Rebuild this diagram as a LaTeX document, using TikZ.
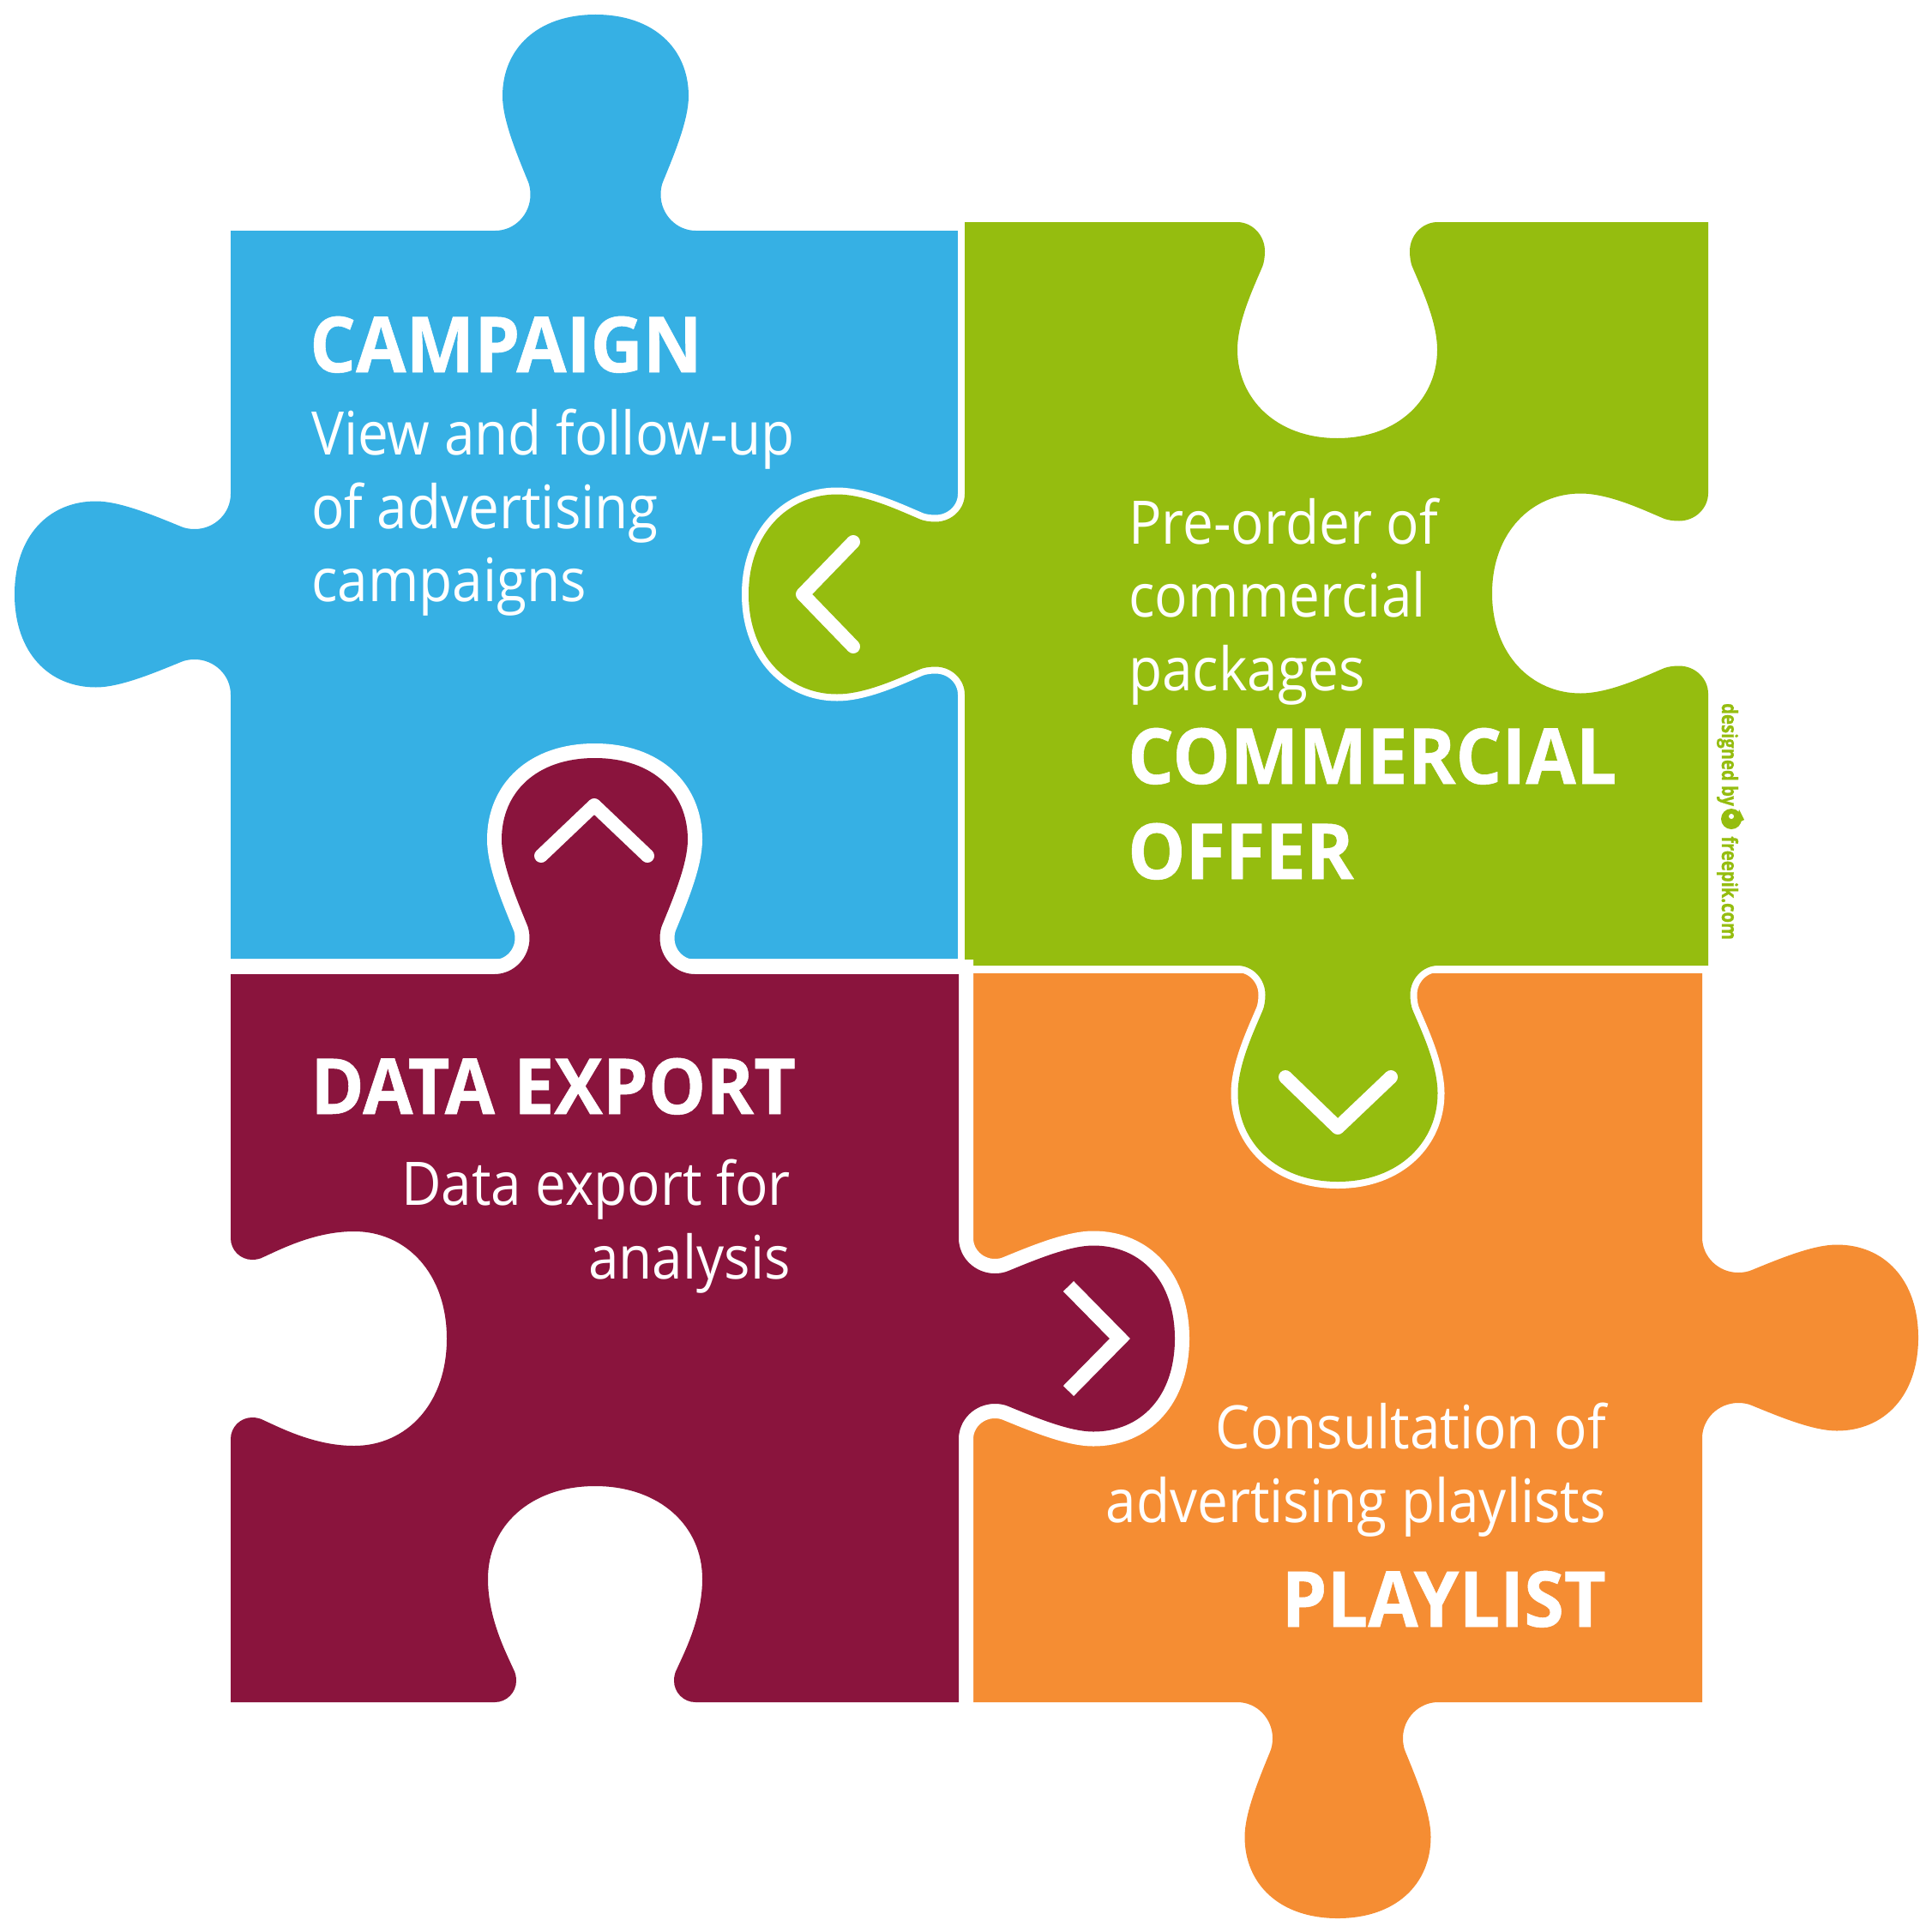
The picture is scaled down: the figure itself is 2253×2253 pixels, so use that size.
\documentclass[tikz,border=0pt]{standalone}
\usepackage{fontspec}
\setmainfont{Open Sans}
\newfontfamily\bodyf[FakeStretch=0.912]{Open Sans}
\newfontfamily\headf[FakeStretch=0.94,BoldFeatures={FakeStretch=0.94,FakeBold=0.6}]{Open Sans}
\newfontfamily\credf[BoldFeatures={FakeStretch=0.81,FakeBold=0.8}]{Open Sans}
\definecolor{cblue}{RGB}{54,176,228}
\definecolor{cgreen}{RGB}{149,189,15}
\definecolor{cmaroon}{RGB}{138,20,61}
\definecolor{corange}{RGB}{245,141,51}
\def\Q#1#2{({\cx+(\ux)*(#1)+(\vx)*(#2)},{\cy+(\uy)*(#1)+(\vy)*(#2)})}
% profiles: neck height, diagonal start, controls, widest height, head controls
\newcommand\ProfTab{\def\ff{117}\def\nn{76}\def\ww{108.5}\def\rr{42}\def\sx{79}\def\sy{58}\def\ax{93}\def\ay{92}\def\by{130}\def\hy{157}\def\hc{212}\def\kk{68}}
\newcommand\ProfGreen{\def\ff{117}\def\nn{84.5}\def\ww{116.5}\def\rr{34}\def\sx{87}\def\sy{51}\def\ax{97}\def\ay{75}\def\by{115}\def\hy{149}\def\hc{205}\def\kk{72}}
\newcommand\ProfNotch{\def\ff{117}\def\nn{92}\def\ww{125}\def\rr{25}\def\sx{95}\def\sy{38}\def\ax{104}\def\ay{58}\def\by{98}\def\hy{144}\def\hc{205}\def\kk{76}}
\newcommand\Side[6]{%
\def\cx{#1}\def\cy{#2}\def\ux{#3}\def\uy{#4}\def\vx{#5}\def\vy{#6}%
\edef\curpath{\curpath -- \Q{-\ff}{0}
 .. controls \Q{-\ff+.55*(\ff-\nn)}{0} and \Q{-\nn}{.45*\rr} .. \Q{-\nn}{\rr}
 .. controls \Q{-\nn}{\rr*.6+\sy*.4} and \Q{-\nn*.6-\sx*.4}{\rr*.25+\sy*.75} .. \Q{-\sx}{\sy}
 .. controls \Q{-\ax}{\ay} and \Q{-\ww}{\by} .. \Q{-\ww}{\hy}
 .. controls \Q{-\ww}{\hc} and \Q{-\kk}{252} .. \Q{0}{252}
 .. controls \Q{\kk}{252} and \Q{\ww}{\hc} .. \Q{\ww}{\hy}
 .. controls \Q{\ww}{\by} and \Q{\ax}{\ay} .. \Q{\sx}{\sy}
 .. controls \Q{\nn*.6+\sx*.4}{\rr*.25+\sy*.75} and \Q{\nn}{\rr*.6+\sy*.4} .. \Q{\nn}{\rr}
 .. controls \Q{\nn}{.45*\rr} and \Q{\ff-.55*(\ff-\nn)}{0} .. \Q{\ff}{0}}}
\newcommand\Add[1]{\edef\curpath{\curpath #1}}
% blue
\ProfTab
\def\curpath{(269,269)}
\Side{694.5}{269}{1}{0}{0}{-1}
\Add{-- (1118,269) -- (1118,1118) -- (269,1118)}
\Side{269}{693}{0}{-1}{-1}{0}
\Add{-- cycle}
\let\bluepath\curpath
% orange
\def\curpath{(1135,1135) -- (1985,1135)}
\Side{1985}{1560}{0}{1}{1}{0}
\Add{-- (1985,1985)}
\Side{1560}{1985}{-1}{0}{0}{1}
\Add{-- (1135,1985) -- cycle}
\let\orangepath\curpath
% green
\ProfGreen
\def\curpath{(1125,259)}
\Side{1559.5}{259}{1}{0}{0}{1}
\Add{-- (1992,259)}
\Side{1992}{692}{0}{1}{-1}{0}
\Add{-- (1992,1126)}
\Side{1560}{1126}{-1}{0}{0}{1}
\Add{-- (1125,1126)}
\Side{1125}{693}{0}{-1}{-1}{0}
\Add{-- cycle}
\let\greenpath\curpath
% maroon
\ProfTab
\def\curpath{(269,1136)}
\Side{693.5}{1136}{1}{0}{0}{-1}
\Add{-- (1118,1136)}
\Side{1118}{1561}{0}{1}{1}{0}
\Add{-- (1118,1985)}
\ProfNotch
\Side{694}{1985}{-1}{0}{0}{-1}
\Add{-- (269,1985)}
\Side{269}{1561}{0}{-1}{1}{0}
\Add{-- cycle}
\let\maroonpath\curpath
\tikzset{
  body/.style={text=white,inner sep=0pt,font=\fontsize{70}{85}\selectfont\bodyf},
  head/.style={text=white,inner sep=0pt,font=\fontsize{90}{111}\selectfont\headf\bfseries},
  chev/.style={draw=white,line width=16pt,line cap=round,line join=round},
  chevsq/.style={draw=white,line width=17pt,line cap=butt,line join=miter},
  credit/.style={text=cgreen,inner sep=0pt,rotate=-90,font=\fontsize{25}{25}\selectfont\credf\bfseries}
}
\begin{document}
\begin{tikzpicture}[x=1pt,y=-1pt]
\useasboundingbox (0,0) rectangle (2253,2253);
\fill[cblue] \bluepath;
\fill[corange] \orangepath;
\draw[white,line width=16pt,line join=miter] \greenpath;
\fill[cgreen] \greenpath;
\draw[white,line width=34pt,line join=miter] \maroonpath;
\fill[cmaroon] \maroonpath;
% chevrons
\draw[chev] (995,632) -- (936,693) -- (995,754);
\draw[chev] (631,998) -- (693,939) -- (755,998);
\draw[chev] (1499,1256) -- (1560,1315) -- (1622,1256);
\draw[chevsq] (1246,1500) -- (1306,1561) -- (1246,1622);
% text
\node[head,anchor=base west] (t1) at (361,434) {CAMPAIGN};
\node[body,anchor=base west] (b1a) at (363,530) {View and follow-up};
\node[body,anchor=base west] (b1b) at (363,616) {of advertising};
\node[body,anchor=base west] (b1c) at (363,701) {campaigns};
\node[body,anchor=base west] (b2a) at (1316,634) {Pre-order of};
\node[body,anchor=base west] (b2b) at (1316,719) {commercial};
\node[body,anchor=base west] (b2c) at (1316,805) {packages};
\node[head,anchor=base west] (t2a) at (1315,914) {COMMERCIAL};
\node[head,anchor=base west] (t2b) at (1315,1025) {OFFER};
\node[head,anchor=base west] (t3) at (362,1299) {DATA EXPORT};
\node[body,anchor=base east] (b3a) at (922,1405) {Data export for};
\node[body,anchor=base east] (b3b) at (922,1491) {analysis};
\node[body,anchor=base east] (b4a) at (1873,1689) {Consultation of};
\node[body,anchor=base east] (b4b) at (1873,1775) {advertising playlists};
\node[head,anchor=base east] (t4) at (1873,1897) {PLAYLIST};
% credit
\node[credit,anchor=base west] (c1) at (2008,820) {designed by};
\node[credit,anchor=base west] (c2) at (2008,975) {freepik.com};
\fill[cgreen] (2019,955) circle (12);
\fill[cgreen] (2028,944) -- (2034,956) -- (2024,961) -- cycle;
\fill[white] (2019,952) circle (3);
\end{tikzpicture}
\end{document}
